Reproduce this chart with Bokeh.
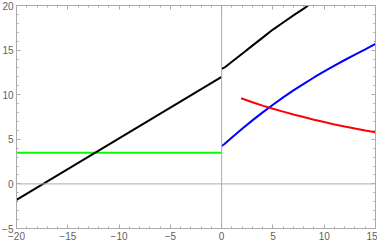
from bokeh.plotting import figure
from bokeh.models import Range1d, Span, SingleIntervalTicker, LinearAxis, CustomJSTickFormatter
from bokeh.embed import file_html
from bokeh.resources import INLINE

# ---- data ----
black_left_x = [-20, 0]
black_left_y = [-1.8, 12.0]

green_x = [-20, 0]
green_y = [3.5, 3.5]

black_right_x = [0, 0.35, 1, 2, 3, 4, 5, 6, 7, 8, 8.5]
black_right_y = [12.9, 13.1, 13.7, 14.6, 15.5, 16.4, 17.3, 18.1, 18.9, 19.65, 20.05]

blue_x = [0, 0.25, 1, 2, 3, 4, 5, 6, 7, 8, 9, 10, 11, 12, 13, 14, 15]
blue_y = [4.25, 4.45, 5.2, 6.18, 7.12, 8.02, 8.88, 9.7, 10.48, 11.22, 11.93, 12.61, 13.26, 13.89, 14.5, 15.09, 15.7]

red_x = [1.9, 3, 4, 5, 6, 7, 8, 9, 10, 11, 12, 13, 14, 15]
red_y = [9.6, 9.15, 8.78, 8.43, 8.1, 7.79, 7.49, 7.2, 6.93, 6.67, 6.43, 6.2, 5.99, 5.8]

x_start, x_end = -20, 15
y_start, y_end = -5, 20

FRAME = "#ababab"
LABEL = "#5f5f5f"

p = figure(frame_width=359, frame_height=223, output_backend="svg", toolbar_location=None,
           x_range=Range1d(x_start, x_end), y_range=Range1d(y_start, y_end),
           x_axis_location=None, y_axis_location=None,
           min_border_left=20, min_border_right=2, min_border_top=9, min_border_bottom=14)
p.styles = {"margin-left": "-4px", "margin-top": "-4px"}
p.grid.visible = False
p.outline_line_color = FRAME
p.background_fill_color = "white"
p.border_fill_color = "white"

fmt = CustomJSTickFormatter(code="return tick < 0 ? '\u2212' + Math.abs(tick) : String(tick);")
blank = CustomJSTickFormatter(code="return '';")

def make_axis(labels, standoff=3):
    ax = LinearAxis(ticker=SingleIntervalTicker(interval=5, num_minor_ticks=5),
                    formatter=fmt if labels else blank)
    ax.axis_line_color = FRAME
    ax.major_tick_line_color = FRAME
    ax.minor_tick_line_color = FRAME
    ax.major_tick_in = 4
    ax.major_tick_out = 0
    ax.minor_tick_in = 2
    ax.minor_tick_out = 0
    ax.major_label_text_color = LABEL
    ax.major_label_text_font = "Liberation Sans"
    if labels:
        ax.major_label_text_font_size = "10px"
        ax.major_label_standoff = standoff
    else:
        ax.major_label_text_font_size = "1px"
        ax.major_label_standoff = 0
    return ax

p.add_layout(make_axis(True, 3), "below")
p.add_layout(make_axis(True, 3), "left")
p.add_layout(make_axis(False), "above")
p.add_layout(make_axis(False), "right")

p.add_layout(Span(location=0, dimension="width", line_color=FRAME, line_width=1))
p.add_layout(Span(location=0, dimension="height", line_color=FRAME, line_width=1))

p.line(green_x, green_y, line_color="#00ff00", line_width=2)
p.line(black_left_x, black_left_y, line_color="black", line_width=2)
p.line(black_right_x, black_right_y, line_color="black", line_width=2)
p.line(blue_x, blue_y, line_color="#0000ff", line_width=2)
p.line(red_x, red_y, line_color="#ff0000", line_width=2)

open("out.html", "w").write(file_html(p, INLINE))
